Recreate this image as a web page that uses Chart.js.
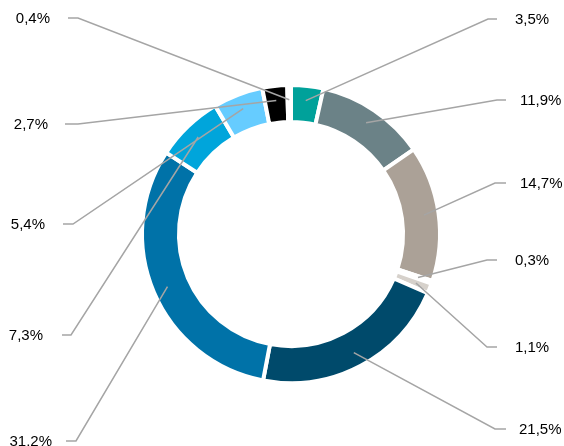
<!DOCTYPE html>
<html>
<head>
<meta charset="utf-8">
<script src="https://cdn.jsdelivr.net/npm/chart.js@4/dist/chart.umd.min.js"></script>
<style>
  html, body { margin: 0; padding: 0; background: #ffffff; }
  #wrap { position: relative; width: 564px; height: 446px; }
</style>
</head>
<body>
<div id="wrap"><canvas id="chart" width="564" height="446"></canvas></div>
<script>
// Shares (percent), clockwise from the top of the ring
const shares = [3.5, 11.9, 14.7, 0.3, 1.1, 21.5, 31.2, 7.3, 5.4, 2.7, 0.4];
const sliceColors = ['#00A19A', '#6B8287', '#ABA197', '#FFFFFF', '#D6D1CB',
                     '#004A6B', '#0072A8', '#00A5DB', '#66CCFF', '#000000', '#FFFFFF'];

// Callout placement for each slice: side, label row y, elbow x, line end x, text x
const callouts = [
  { side: 'R', y: 19,  elbow: 488, end: 497, text: 515 },
  { side: 'R', y: 100, elbow: 497, end: 506, text: 520 },
  { side: 'R', y: 183, elbow: 495, end: 506, text: 520 },
  { side: 'R', y: 260, elbow: 487, end: 497, text: 515 },
  { side: 'R', y: 347, elbow: 487, end: 497, text: 515 },
  { side: 'R', y: 429, elbow: 495, end: 506, text: 519 },
  { side: 'L', y: 441, elbow: 76,  end: 66,  text: 52 },
  { side: 'L', y: 335, elbow: 71,  end: 62,  text: 43 },
  { side: 'L', y: 224, elbow: 73,  end: 63,  text: 45 },
  { side: 'L', y: 124, elbow: 78,  end: 65,  text: 48 },
  { side: 'L', y: 18,  elbow: 78,  end: 68,  text: 50 }
];

const fmt = v => v.toFixed(1).replace('.', ',') + '%';

// Draws leader lines from inside each slice to its percentage label
const calloutPlugin = {
  id: 'callouts',
  afterDatasetsDraw(chart) {
    const ctx = chart.ctx;
    const meta = chart.getDatasetMeta(0);
    ctx.save();
    meta.data.forEach((arc, i) => {
      const c = callouts[i];
      const p = arc.getProps(['x', 'y', 'startAngle', 'endAngle', 'innerRadius', 'outerRadius'], true);
      const mid = (p.startAngle + p.endAngle) / 2;
      const r = p.innerRadius + (p.outerRadius - p.innerRadius) * 0.6;
      const sx = p.x + Math.cos(mid) * r;
      const sy = p.y + Math.sin(mid) * r;
      ctx.strokeStyle = '#A5A5A5';
      ctx.lineWidth = 1.5;
      ctx.beginPath();
      ctx.moveTo(sx, sy);
      ctx.lineTo(c.elbow, c.y);
      ctx.lineTo(c.end, c.y);
      ctx.stroke();
      ctx.fillStyle = '#000000';
      ctx.font = '15px "Liberation Sans", Arial, sans-serif';
      ctx.textBaseline = 'middle';
      ctx.textAlign = c.side === 'R' ? 'left' : 'right';
      ctx.fillText(fmt(shares[i]), c.text, c.y + 1);
    });
    ctx.restore();
  }
};

new Chart(document.getElementById('chart'), {
  type: 'doughnut',
  data: {
    labels: shares.map(fmt),
    datasets: [{
      data: shares,
      backgroundColor: sliceColors,
      borderColor: '#FFFFFF',
      borderWidth: 4,
      borderJoinStyle: 'miter'
    }]
  },
  options: {
    responsive: false,
    animation: false,
    cutout: '75.2%',
    layout: { padding: { top: 83, bottom: 61, left: 18, right: 0 } },
    plugins: {
      legend: { display: false },
      tooltip: { enabled: false }
    }
  },
  plugins: [calloutPlugin]
});
</script>
</body>
</html>
